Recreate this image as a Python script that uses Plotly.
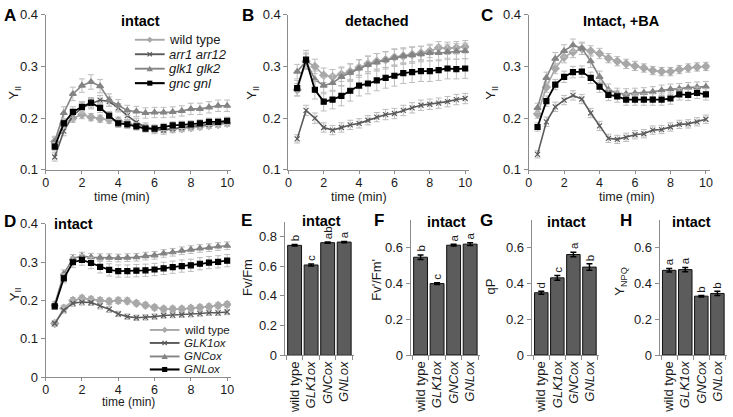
import plotly.graph_objects as go

W, H = 733, 417
FONT = "Liberation Sans, Arial, sans-serif"

# ---------------- data ----------------
time_min = [0.5, 1.0, 1.5, 2.0, 2.5, 3.0, 3.5, 4.0, 4.5, 5.0,
            5.5, 6.0, 6.5, 7.0, 7.5, 8.0, 8.5, 9.0, 9.5, 10.0]

mutant_names = ["wild type", "<i>arr1 arr12</i>", "<i>glk1 glk2</i>", "<i>gnc gnl</i>"]
ox_names = ["wild type", "<i>GLK1ox</i>", "<i>GNCox</i>", "<i>GNLox</i>"]
bar_labels = ["wild type", "<i>GLK1ox</i>", "<i>GNCox</i>", "<i>GNLox</i>"]

# Panel A: intact
A_wt = [0.155, 0.190, 0.200, 0.207, 0.202, 0.199, 0.197, 0.195, 0.190, 0.186,
        0.182, 0.178, 0.178, 0.179, 0.180, 0.182, 0.184, 0.186, 0.188, 0.190]
A_arr = [0.125, 0.175, 0.205, 0.220, 0.228, 0.235, 0.232, 0.220, 0.205, 0.192,
         0.183, 0.178, 0.177, 0.180, 0.182, 0.184, 0.186, 0.188, 0.190, 0.192]
A_glk = [0.155, 0.210, 0.247, 0.263, 0.270, 0.262, 0.235, 0.225, 0.215, 0.213,
         0.210, 0.211, 0.211, 0.212, 0.214, 0.218, 0.218, 0.221, 0.224, 0.224]
A_gnc = [0.145, 0.190, 0.212, 0.222, 0.230, 0.220, 0.205, 0.190, 0.188, 0.184,
         0.180, 0.180, 0.183, 0.186, 0.187, 0.188, 0.190, 0.193, 0.193, 0.195]
A_wt_err = [0.008, 0.008, 0.008, 0.008, 0.007, 0.007, 0.007, 0.007, 0.007, 0.006,
            0.006, 0.006, 0.006, 0.006, 0.006, 0.006, 0.006, 0.006, 0.006, 0.006]
A_arr_err = [0.008, 0.009, 0.010, 0.010, 0.010, 0.009, 0.009, 0.008, 0.008, 0.008,
             0.008, 0.008, 0.008, 0.008, 0.008, 0.008, 0.008, 0.008, 0.008, 0.008]
A_glk_err = [0.010, 0.012, 0.013, 0.013, 0.014, 0.013, 0.012, 0.011, 0.010, 0.010,
             0.010, 0.010, 0.010, 0.010, 0.010, 0.011, 0.011, 0.011, 0.011, 0.011]
A_gnc_err = [0.008, 0.009, 0.010, 0.010, 0.010, 0.009, 0.008, 0.008, 0.008, 0.007,
             0.007, 0.007, 0.007, 0.007, 0.007, 0.007, 0.007, 0.007, 0.007, 0.007]

# Panel B: detached
B_wt = [0.255, 0.310, 0.300, 0.283, 0.280, 0.285, 0.290, 0.298, 0.305, 0.310,
        0.313, 0.318, 0.320, 0.323, 0.326, 0.330, 0.336, 0.335, 0.336, 0.338]
B_arr = [0.160, 0.215, 0.200, 0.182, 0.177, 0.182, 0.187, 0.190, 0.196, 0.202,
         0.207, 0.209, 0.215, 0.220, 0.225, 0.227, 0.229, 0.232, 0.236, 0.238]
B_glk = [0.290, 0.310, 0.275, 0.263, 0.268, 0.280, 0.288, 0.296, 0.303, 0.308,
         0.312, 0.317, 0.320, 0.322, 0.324, 0.326, 0.326, 0.328, 0.329, 0.330]
B_gnc = [0.258, 0.313, 0.255, 0.232, 0.236, 0.243, 0.253, 0.263, 0.267, 0.273,
         0.278, 0.282, 0.287, 0.289, 0.291, 0.291, 0.293, 0.296, 0.295, 0.296]
B_wt_err = [0.012, 0.014, 0.014, 0.014, 0.014, 0.014, 0.015, 0.015, 0.015, 0.015,
            0.015, 0.015, 0.014, 0.014, 0.013, 0.013, 0.012, 0.012, 0.012, 0.012]
B_arr_err = [0.008, 0.010, 0.010, 0.009, 0.009, 0.009, 0.009, 0.009, 0.009, 0.009,
             0.010, 0.010, 0.010, 0.010, 0.010, 0.010, 0.010, 0.010, 0.010, 0.010]
B_glk_err = [0.014, 0.016, 0.016, 0.016, 0.016, 0.017, 0.017, 0.017, 0.017, 0.017,
             0.017, 0.017, 0.016, 0.016, 0.015, 0.015, 0.015, 0.015, 0.015, 0.015]
B_gnc_err = [0.015, 0.018, 0.018, 0.018, 0.018, 0.019, 0.020, 0.020, 0.020, 0.020,
             0.020, 0.020, 0.020, 0.020, 0.020, 0.020, 0.020, 0.020, 0.019, 0.019]

# Panel C: intact, +BA
C_wt = [0.208, 0.260, 0.296, 0.318, 0.328, 0.334, 0.330, 0.325, 0.316, 0.310,
        0.305, 0.301, 0.297, 0.292, 0.290, 0.290, 0.294, 0.297, 0.299, 0.300]
C_arr = [0.130, 0.193, 0.222, 0.235, 0.244, 0.237, 0.210, 0.185, 0.161, 0.159,
         0.163, 0.168, 0.170, 0.177, 0.178, 0.183, 0.188, 0.189, 0.193, 0.198]
C_glk = [0.220, 0.278, 0.315, 0.330, 0.341, 0.335, 0.310, 0.280, 0.255, 0.248,
         0.247, 0.248, 0.249, 0.251, 0.254, 0.256, 0.257, 0.259, 0.260, 0.261]
C_gnc = [0.183, 0.233, 0.265, 0.280, 0.289, 0.290, 0.278, 0.261, 0.245, 0.242,
         0.236, 0.236, 0.236, 0.236, 0.236, 0.238, 0.246, 0.245, 0.249, 0.246]
C_wt_err = [0.008, 0.010, 0.010, 0.011, 0.011, 0.011, 0.010, 0.010, 0.009, 0.009,
            0.009, 0.009, 0.008, 0.008, 0.008, 0.008, 0.008, 0.008, 0.008, 0.008]
C_arr_err = [0.007, 0.009, 0.009, 0.009, 0.009, 0.009, 0.009, 0.009, 0.008, 0.008,
             0.008, 0.008, 0.008, 0.008, 0.008, 0.008, 0.008, 0.008, 0.008, 0.008]
C_glk_err = [0.009, 0.011, 0.012, 0.012, 0.012, 0.012, 0.012, 0.011, 0.011, 0.010,
             0.010, 0.010, 0.010, 0.010, 0.010, 0.010, 0.010, 0.010, 0.010, 0.010]
C_gnc_err = [0.008, 0.010, 0.010, 0.011, 0.011, 0.011, 0.011, 0.011, 0.011, 0.011,
             0.011, 0.011, 0.011, 0.011, 0.011, 0.011, 0.011, 0.011, 0.011, 0.011]

# Panel D: intact, overexpressors
D_wt = [0.140, 0.180, 0.200, 0.206, 0.203, 0.200, 0.198, 0.200, 0.199, 0.193,
        0.188, 0.182, 0.178, 0.178, 0.178, 0.180, 0.182, 0.184, 0.187, 0.190]
D_glk1ox = [0.140, 0.175, 0.193, 0.196, 0.195, 0.186, 0.177, 0.165, 0.158, 0.155,
            0.156, 0.158, 0.161, 0.162, 0.163, 0.164, 0.166, 0.168, 0.168, 0.170]
D_gncox = [0.190, 0.270, 0.310, 0.316, 0.313, 0.312, 0.312, 0.311, 0.312, 0.313,
           0.316, 0.318, 0.323, 0.326, 0.330, 0.333, 0.336, 0.338, 0.341, 0.343]
D_gnlox = [0.185, 0.258, 0.300, 0.306, 0.298, 0.288, 0.280, 0.277, 0.277, 0.278,
           0.279, 0.281, 0.284, 0.287, 0.290, 0.292, 0.296, 0.299, 0.301, 0.304]
D_wt_err = [0.007, 0.008, 0.008, 0.008, 0.008, 0.008, 0.008, 0.008, 0.008, 0.007,
            0.007, 0.007, 0.007, 0.007, 0.007, 0.007, 0.007, 0.007, 0.007, 0.007]
D_glk1ox_err = [0.007, 0.008, 0.008, 0.008, 0.008, 0.008, 0.008, 0.007, 0.007, 0.007,
                0.007, 0.007, 0.007, 0.007, 0.007, 0.007, 0.007, 0.007, 0.007, 0.007]
D_gncox_err = [0.008, 0.010, 0.010, 0.010, 0.010, 0.010, 0.010, 0.010, 0.010, 0.010,
               0.010, 0.010, 0.010, 0.010, 0.010, 0.010, 0.010, 0.010, 0.010, 0.010]
D_gnlox_err = [0.008, 0.012, 0.014, 0.014, 0.015, 0.016, 0.016, 0.016, 0.016, 0.016,
               0.016, 0.016, 0.016, 0.016, 0.016, 0.016, 0.016, 0.016, 0.016, 0.016]

# Bar panels E-H
E_fvfm = [0.740, 0.608, 0.758, 0.762]
E_err = [0.005, 0.007, 0.004, 0.004]
E_letters = ["b", "c", "ab", "a"]
F_fvfm_p = [0.545, 0.398, 0.612, 0.618]
F_err = [0.013, 0.005, 0.005, 0.007]
F_letters = ["b", "c", "a", "a"]
G_qp = [0.347, 0.430, 0.560, 0.490]
G_err = [0.008, 0.013, 0.013, 0.018]
G_letters = ["d", "c", "a", "b"]
H_ynpq = [0.472, 0.476, 0.328, 0.343]
H_err = [0.010, 0.012, 0.004, 0.012]
H_letters = ["a", "a", "b", "b"]

# ---------------- styling ----------------
STY = [
    dict(color="#A8A8A8", symbol="diamond", size=6, lw=1.6),
    dict(color="#5A5A5A", symbol="x-thin", size=5, lw=1.6),
    dict(color="#848484", symbol="triangle-up", size=6, lw=1.6),
    dict(color="#000000", symbol="square", size=5, lw=1.8),
]
ERRCOL = "#BDBDBD"
AXCOL = "#8C8C8C"
TXT = "#1a1a1a"


def px(x):
    return x / W


def py(y):
    return 1 - y / H


fig = go.Figure()
layout = dict(
    width=W, height=H, margin=dict(l=0, r=0, t=0, b=0),
    paper_bgcolor="white", plot_bgcolor="white", showlegend=False,
    font=dict(family=FONT, size=13, color=TXT),
)
annotations = []
shapes = []


def axis_common():
    return dict(showline=True, linecolor=AXCOL, linewidth=1, showgrid=False,
                zeroline=False, ticks="outside", ticklen=4, tickcolor=AXCOL,
                tickfont=dict(family=FONT, size=13, color=TXT))


def line_panel(n, x0, x10, xr, ytop, ybot, yrange, ytv, ytt, series, errs):
    scale = (x10 - x0) / 10.0
    xd = [px(x0), px(x0 + xr * scale)]
    yd = [py(ybot), py(ytop)]
    xa = axis_common()
    xa.update(domain=xd, range=[0, xr], anchor=f"y{n}", tickvals=[0, 2, 4, 6, 8, 10],
              ticklen=3, ticklabelstandoff=-2,
              tickfont=dict(family=FONT, size=12.5, color=TXT))
    ya = axis_common()
    ya.update(domain=yd, range=yrange, anchor=f"x{n}", tickvals=ytv, ticktext=ytt)
    layout[f"xaxis{n}"] = xa
    layout[f"yaxis{n}"] = ya
    for i, (vals, err) in enumerate(zip(series, errs)):
        s = STY[i]
        fig.add_trace(go.Scatter(
            x=time_min, y=vals, mode="lines+markers", xaxis=f"x{n}", yaxis=f"y{n}",
            line=dict(color=s["color"], width=s["lw"]),
            marker=dict(symbol=s["symbol"], size=s["size"], color=s["color"],
                        line=dict(color=s["color"], width=1.2)),
            error_y=dict(type="data", array=err, color=ERRCOL, thickness=1, width=3),
        ))


def bar_panel(n, xl, xr_, ytop, ybot, yrange, ytv, ytt, vals, err, letters):
    xa = axis_common()
    xa.update(domain=[px(xl), px(xr_)], range=[-0.6, 3.6], anchor=f"y{n}",
              tickvals=[0, 1, 2, 3], ticktext=bar_labels, ticks="", tickangle=-90,
              minor=dict(tickvals=[-0.5, 0.5, 1.5, 2.5, 3.5], ticks="outside",
                         ticklen=4, tickcolor=AXCOL))
    ya = axis_common()
    ya.update(domain=[py(ybot), py(ytop)], range=yrange, anchor=f"x{n}",
              tickvals=ytv, ticktext=ytt)
    layout[f"xaxis{n}"] = xa
    layout[f"yaxis{n}"] = ya
    fig.add_trace(go.Bar(
        x=[0, 1, 2, 3], y=vals, width=0.84, xaxis=f"x{n}", yaxis=f"y{n}",
        marker=dict(color="#5C5C5C", line=dict(color="#111111", width=1)),
        error_y=dict(type="data", array=err, color="#000000", thickness=1.5, width=3),
    ))
    for i, (v, e, lt) in enumerate(zip(vals, err, letters)):
        annotations.append(dict(
            x=i, y=v + e, xref=f"x{n}", yref=f"y{n}", text=lt, showarrow=False,
            textangle=-90, xanchor="center", yanchor="bottom", yshift=1,
            font=dict(family=FONT, size=11.5, color=TXT)))


y1_tv = [0.1, 0.2, 0.3, 0.4]
y1_tt = ["0.1", "0.2", "0.3", "0.4"]
line_panel(1, 43, 226, 10.22, 8, 169, [0.1, 0.4], y1_tv, y1_tt,
           [A_wt, A_arr, A_glk, A_gnc], [A_wt_err, A_arr_err, A_glk_err, A_gnc_err])
line_panel(2, 287.7, 466, 10.22, 8, 169, [0.1, 0.4], y1_tv, y1_tt,
           [B_wt, B_arr, B_glk, B_gnc], [B_wt_err, B_arr_err, B_glk_err, B_gnc_err])
line_panel(3, 530, 708.7, 10.22, 8, 169, [0.1, 0.4], y1_tv, y1_tt,
           [C_wt, C_arr, C_glk, C_gnc], [C_wt_err, C_arr_err, C_glk_err, C_gnc_err])
line_panel(4, 43, 226, 10.22, 225, 384, [0, 0.4], [0, 0.1, 0.2, 0.3, 0.4],
           ["0", "0.1", "0.2", "0.3", "0.4"],
           [D_wt, D_glk1ox, D_gncox, D_gnlox],
           [D_wt_err, D_glk1ox_err, D_gncox_err, D_gnlox_err])

bar_panel(5, 284, 354, 222.6, 361.3, [0, 0.9], [0, 0.2, 0.4, 0.6, 0.8],
          ["0", "0.2", "0.4", "0.6", "0.8"], E_fvfm, E_err, E_letters)
bar_panel(6, 411, 481, 221.4, 361, [0, 0.75], [0, 0.2, 0.4, 0.6],
          ["0", "0.2", "0.4", "0.6"], F_fvfm_p, F_err, F_letters)
bar_panel(7, 533, 601, 221.4, 361, [0, 0.75], [0, 0.2, 0.4, 0.6],
          ["0", "0.2", "0.4", "0.6"], G_qp, G_err, G_letters)
bar_panel(8, 662, 730, 221.4, 361, [0, 0.75], [0, 0.2, 0.4, 0.6],
          ["0", "0.2", "0.4", "0.6"], H_ynpq, H_err, H_letters)


def ptext(x, y, text, size=13, bold=False, angle=0, xanchor="center"):
    annotations.append(dict(
        x=px(x), y=py(y), xref="paper", yref="paper", text=(f"<b>{text}</b>" if bold else text),
        showarrow=False, textangle=angle, xanchor=xanchor, yanchor="middle",
        font=dict(family=FONT, size=size, color="#000000" if bold else TXT)))


# panel letters
for lt, x, y in [("A", 7, 9), ("B", 247, 9), ("C", 488, 9), ("D", 7.5, 222),
                 ("E", 246, 221), ("F", 379, 221), ("G", 487, 221), ("H", 628, 221)]:
    ptext(x, y, lt, size=17, bold=True)

# panel titles
for tt, x, y in [("intact", 139, 15), ("detached", 377, 15), ("Intact, +BA", 624, 15),
                 ("intact", 71, 225), ("intact", 321, 222), ("intact", 447, 223),
                 ("intact", 568, 223), ("intact", 694, 223)]:
    ptext(x, y, tt, size=14.5, bold=True)

# axis titles
for x, y, sz in [(120, 197, 12.5), (359, 197, 12.5), (629, 197, 12.5), (127, 409.5, 12)]:
    ptext(x, y, "time (min)", size=sz)
for x, y, tt in [(12, 89, "Y<sub>II</sub>"), (252, 89, "Y<sub>II</sub>"),
                 (493, 89, "Y<sub>II</sub>"), (12, 298, "Y<sub>II</sub>"),
                 (247, 280, "Fv/Fm"), (377, 283, "Fv'/Fm'"),
                 (492, 290, "qP"), (623, 285, "Y<sub>NPQ</sub>")]:
    ptext(x, y, tt, size=13, angle=-90)


# manual legends (layout decorations)
def marker_shape(cx, cy, i):
    s = STY[i]
    c = s["color"]
    r = 2.6
    if s["symbol"] == "square":
        shapes.append(dict(type="rect", xref="paper", yref="paper", x0=px(cx - r), x1=px(cx + r),
                           y0=py(cy + r), y1=py(cy - r), fillcolor=c, line=dict(width=0)))
    elif s["symbol"] == "diamond":
        path = (f"M {px(cx - 3.2)} {py(cy)} L {px(cx)} {py(cy - 3.2)} "
                f"L {px(cx + 3.2)} {py(cy)} L {px(cx)} {py(cy + 3.2)} Z")
        shapes.append(dict(type="path", xref="paper", yref="paper", path=path,
                           fillcolor=c, line=dict(width=0)))
    elif s["symbol"] == "triangle-up":
        path = (f"M {px(cx - 3.2)} {py(cy + 2.6)} L {px(cx + 3.2)} {py(cy + 2.6)} "
                f"L {px(cx)} {py(cy - 3.0)} Z")
        shapes.append(dict(type="path", xref="paper", yref="paper", path=path,
                           fillcolor=c, line=dict(width=0)))
    else:
        for dx in (-1, 1):
            shapes.append(dict(type="line", xref="paper", yref="paper",
                               x0=px(cx - 2.2), x1=px(cx + 2.2),
                               y0=py(cy - 2.2 * dx), y1=py(cy + 2.2 * dx),
                               line=dict(color=c, width=1.2)))


def legend(x0, ys, names, size):
    for i, (y, name) in enumerate(zip(ys, names)):
        s = STY[i]
        shapes.append(dict(type="line", xref="paper", yref="paper",
                           x0=px(x0), x1=px(x0 + 30), y0=py(y), y1=py(y),
                           line=dict(color=s["color"], width=s["lw"] + 0.3)))
        marker_shape(x0 + 15, y, i)
        ptext(x0 + 32, y, name, size=size, xanchor="left")


legend(133, [34, 49, 64, 79], mutant_names, 13)
legend(148, [335, 348.5, 362.5, 376], ox_names, 11.5)

layout["annotations"] = annotations
layout["shapes"] = shapes
fig.update_layout(**layout)
fig.write_html("out.html", config={"displayModeBar": False},
               post_script="document.body.style.margin='0';document.body.style.overflow='hidden';")
